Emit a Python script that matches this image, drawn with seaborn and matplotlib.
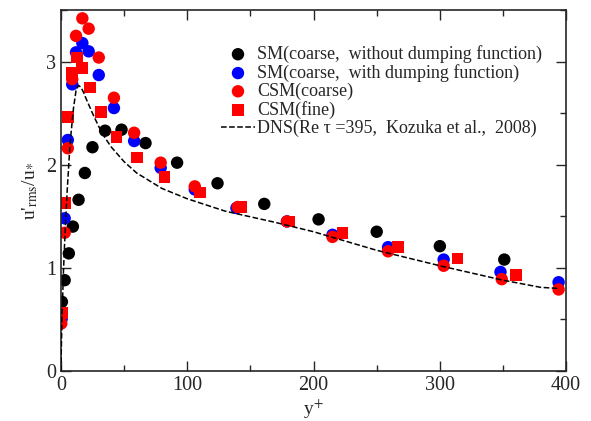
import numpy as np
import pandas as pd
import matplotlib
matplotlib.use("Agg")
import matplotlib.pyplot as plt
import seaborn as sns
from matplotlib.ticker import MultipleLocator

# SM (coarse, without dumping function)
sm_nodamp_y = [0.8, 3, 6.3, 9.5, 14, 19, 25, 35, 48, 67, 92, 124, 161, 204, 250, 300, 351]
sm_nodamp_u = [0.67, 0.88, 1.14, 1.40, 1.66, 1.92, 2.17, 2.33, 2.34, 2.21, 2.02, 1.82, 1.62, 1.47, 1.35, 1.21, 1.08]

# SM (coarse, with dumping function)
sm_damp_y = [0.5, 3, 5.5, 9, 12, 17, 22, 30, 42, 58, 79, 106, 139, 179, 215, 259, 303, 348, 394]
sm_damp_u = [0.50, 1.48, 2.24, 2.78, 3.09, 3.18, 3.10, 2.87, 2.55, 2.23, 1.97, 1.76, 1.58, 1.45, 1.32, 1.20, 1.08, 0.96, 0.86]

# CSM (coarse)
csm_c_y = [0.3, 3, 5.5, 9, 12, 17, 22, 30, 42, 58, 79, 106, 140, 179, 215, 259, 303, 349, 394]
csm_c_u = [0.46, 1.34, 2.16, 2.83, 3.25, 3.42, 3.32, 3.04, 2.65, 2.31, 2.02, 1.79, 1.59, 1.45, 1.30, 1.16, 1.02, 0.89, 0.79]

# CSM (fine)
csm_f_y = [1, 3, 5.5, 9, 13, 17, 23, 32, 44, 60, 82, 110, 143, 181, 223, 267, 314, 360]
csm_f_u = [0.56, 1.63, 2.46, 2.89, 3.04, 2.94, 2.75, 2.51, 2.27, 2.07, 1.88, 1.73, 1.59, 1.45, 1.34, 1.20, 1.09, 0.93]

# DNS (Re_tau = 395, Kozuka et al., 2008)
dns_y = [0, 0.5, 1, 2, 3, 4, 5, 6, 7, 8, 10, 12, 14, 16, 18, 20, 25, 30, 35, 40, 50, 60,
         80, 100, 130, 170, 200, 250, 300, 350, 380, 395]
dns_u = [0, 0.3, 0.55, 0.95, 1.25, 1.5, 1.75, 1.95, 2.15, 2.3, 2.55, 2.72, 2.77, 2.75, 2.7, 2.64,
         2.5, 2.37, 2.26, 2.17, 2.03, 1.92, 1.77, 1.67, 1.55, 1.44, 1.35, 1.17, 1.02, 0.88, 0.81, 0.80]

sns.set_style("ticks")
plt.rcParams['font.family'] = ['Liberation Serif', 'DejaVu Serif']
plt.rcParams['mathtext.fontset'] = 'stix'

fig = plt.figure(figsize=(5.91, 4.21), dpi=100)
ax = fig.add_axes([0.103, 0.119, 0.855, 0.857])

ms = 80
sns.scatterplot(x=sm_nodamp_y, y=sm_nodamp_u, ax=ax, color="black", s=ms, marker="o",
                edgecolor="none", label="SM(coarse,  without dumping function)")
sns.scatterplot(x=sm_damp_y, y=sm_damp_u, ax=ax, color="blue", s=ms, marker="o",
                edgecolor="none", label="SM(coarse,  with dumping function)")
sns.scatterplot(x=csm_c_y, y=csm_c_u, ax=ax, color="red", s=ms, marker="o",
                edgecolor="none", label="CSM(coarse)")
sns.scatterplot(x=csm_f_y, y=csm_f_u, ax=ax, color="red", s=ms * 0.9, marker="s",
                edgecolor="none", label="CSM(fine)")
sns.lineplot(x=dns_y, y=dns_u, ax=ax, color="black", linestyle="--", linewidth=1.1,
             label="DNS(Re \u03c4 =395,  Kozuka et al.,  2008)", zorder=5)

ax.set_xlim(0, 400)
ax.set_ylim(0, 3.5)
ax.xaxis.set_major_locator(MultipleLocator(100))
ax.xaxis.set_minor_locator(MultipleLocator(50))
ax.yaxis.set_major_locator(MultipleLocator(1))
ax.yaxis.set_minor_locator(MultipleLocator(0.5))
ax.tick_params(which="both", direction="in", top=True, right=True, labelsize=14.5, width=1)
ax.tick_params(which="major", length=7)
ax.tick_params(which="minor", length=4)
for sp in ax.spines.values():
    sp.set_linewidth(1.2)

ax.set_xlabel("y$^{+}$", fontsize=14, labelpad=2)
ax.set_ylabel("u'$_{\\rm rms}$/u$_{*}$", fontsize=14, labelpad=4)

leg = ax.legend(loc="upper right", bbox_to_anchor=(0.952, 0.903), frameon=False, fontsize=13,
                handlelength=1.9, handletextpad=0.1, labelspacing=0.05, borderaxespad=0,
                borderpad=0)

fig.savefig("out.png", dpi=100)
